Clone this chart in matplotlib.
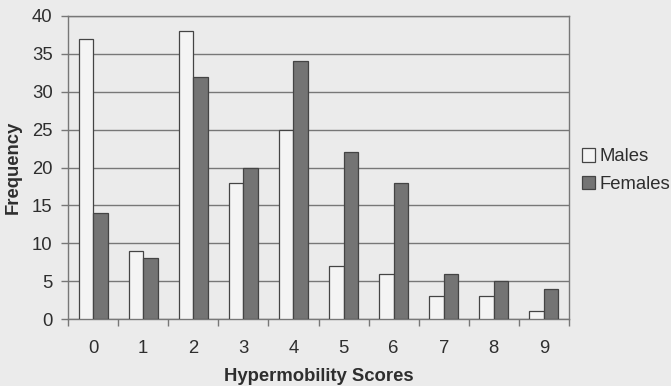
import matplotlib
matplotlib.use("Agg")
import matplotlib.pyplot as plt
import numpy as np

scores = ["0", "1", "2", "3", "4", "5", "6", "7", "8", "9"]
males = [37, 9, 38, 18, 25, 7, 6, 3, 3, 1]
females = [14, 8, 32, 20, 34, 22, 18, 6, 5, 4]
yticks = [0, 5, 10, 15, 20, 25, 30, 35, 40]

plt.rcParams['font.family'] = ['Liberation Sans', 'DejaVu Sans']

bg = '#ebebeb'
txt = '#2e2e2e'
fs = 13.3
fig = plt.figure(figsize=(6.71, 3.86), dpi=100, facecolor=bg)
ax = fig.add_axes([68/671, 1 - 319/386, (569-68)/671, (319-16)/386])
ax.set_facecolor(bg)

x = np.arange(len(scores))
w = 0.29
edge = '#444444'
ax.bar(x - w/2, males, w, color='#f4f4f4', edgecolor=edge, linewidth=0.9, label='Males', zorder=3)
ax.bar(x + w/2, females, w, color='#747474', edgecolor=edge, linewidth=0.9, label='Females', zorder=3)

ax.set_xlim(-0.5, len(scores) - 0.5)
ax.set_ylim(0, 40)
ax.set_yticks(yticks)
ax.set_yticklabels([str(v) for v in yticks], fontsize=fs, color=txt)
ax.yaxis.grid(True, color='#777777', linewidth=1.0, zorder=0)
ax.set_axisbelow(True)

ax.set_xticks(np.arange(len(scores) + 1) - 0.5)
ax.set_xticklabels([])
ax.set_xticks(x, minor=True)
ax.set_xticklabels(scores, minor=True, fontsize=fs, color=txt)
ax.tick_params(axis='x', which='major', direction='out', length=5, color='#777777', width=1)
ax.tick_params(axis='x', which='minor', length=0, pad=15)
ax.tick_params(axis='y', direction='out', length=5, color='#777777', width=1, pad=6)

for s in ax.spines.values():
    s.set_color('#777777')
    s.set_linewidth(1.0)

ax.set_ylabel('Frequency', fontsize=fs, fontweight='bold', color=txt, labelpad=7)
ax.set_xlabel('Hypermobility Scores', fontsize=fs, fontweight='bold', color=txt, labelpad=8)

leg = ax.legend(loc='center left', bbox_to_anchor=(1.025, 0.49), frameon=False,
                fontsize=fs, handlelength=0.75, handleheight=0.75, handletextpad=0.25,
                labelspacing=0.55, borderaxespad=0, borderpad=0)
for t in leg.get_texts():
    t.set_color(txt)

fig.savefig('out.png', dpi=100, facecolor=bg)
